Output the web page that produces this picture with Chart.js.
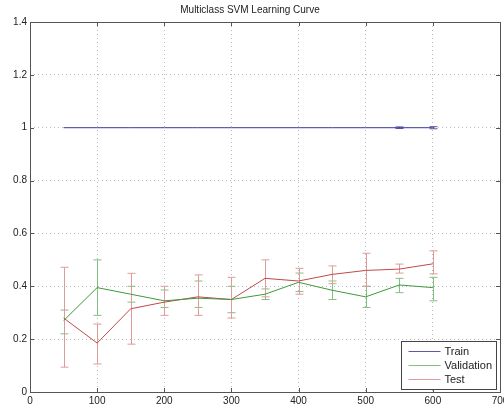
<!DOCTYPE html>
<html>
<head>
<meta charset="utf-8">
<script src="https://cdn.jsdelivr.net/npm/chart.js@4"></script>
<style>
  html, body { margin: 0; padding: 0; background: #fff; }
  #wrap { width: 504px; height: 412px; }
</style>
</head>
<body>
<div id="wrap"><canvas id="c" width="504" height="412"></canvas></div>
<script>
// training set sizes
const sizes = [50, 100, 150, 200, 250, 300, 350, 400, 450, 500, 550, 600]

const trainAcc = [1, 1, 1, 1, 1, 1, 1, 1, 1, 1, 1, 1]
const trainLow = [1, 1, 1, 1, 1, 1, 1, 1, 1, 1, 0.997, 0.996]
const trainHigh = [1, 1, 1, 1, 1, 1, 1, 1, 1, 1, 1.003, 1.004]

const valAcc = [0.27, 0.395, 0.37, 0.345, 0.355, 0.35, 0.37, 0.415, 0.385, 0.36, 0.405, 0.395]
const valLow = [0.22, 0.29, 0.34, 0.32, 0.32, 0.30, 0.35, 0.38, 0.35, 0.32, 0.376, 0.345]
const valHigh = [0.31, 0.50, 0.40, 0.386, 0.42, 0.40, 0.39, 0.45, 0.42, 0.40, 0.43, 0.434]

const testAcc = [0.28, 0.185, 0.315, 0.34, 0.36, 0.35, 0.43, 0.42, 0.445, 0.46, 0.465, 0.485]
const testLow = [0.094, 0.106, 0.181, 0.29, 0.29, 0.28, 0.36, 0.37, 0.41, 0.40, 0.45, 0.447]
const testHigh = [0.472, 0.257, 0.449, 0.40, 0.443, 0.434, 0.50, 0.468, 0.477, 0.525, 0.484, 0.534]

const xTicks = [0, 100, 200, 300, 400, 500, 600, 700]
const yTicks = [0, 0.2, 0.4, 0.6, 0.8, 1, 1.2, 1.4]

const FONT = 'Liberation Sans, Arial, sans-serif'

const series = [
    { label: 'Train', data: trainAcc, low: trainLow, high: trainHigh, color: '#3c3c9c', bar: '#5a5aa8' },
    { label: 'Validation', data: valAcc, low: valLow, high: valHigh, color: '#3c9a3c', bar: '#80c080' },
    { label: 'Test', data: testAcc, low: testLow, high: testHigh, color: '#c24848', bar: '#e09a9a' },
]

// error bars, frame, inward ticks and legend box
const matlabPlugin = {
    id: 'matlab',
    beforeDatasetsDraw(chart) {
        const { ctx } = chart
        const xs = chart.scales.x, ys = chart.scales.y
        ctx.save()
        ctx.lineWidth = 1
        ctx.setLineDash([])
        series.forEach(s => {
            ctx.strokeStyle = s.bar
            sizes.forEach((x, i) => {
                if (s.high[i] === s.low[i]) return
                const px = Math.round(xs.getPixelForValue(x)) + 0.5
                const top = ys.getPixelForValue(s.high[i])
                const bot = ys.getPixelForValue(s.low[i])
                ctx.beginPath()
                ctx.moveTo(px, top); ctx.lineTo(px, bot)
                ctx.moveTo(px - 4, top); ctx.lineTo(px + 4, top)
                ctx.moveTo(px - 4, bot); ctx.lineTo(px + 4, bot)
                ctx.stroke()
            })
        })
        ctx.restore()
    },
    afterDraw(chart) {
        const { ctx, chartArea: a } = chart
        const xs = chart.scales.x, ys = chart.scales.y
        ctx.save()
        ctx.setLineDash([])
        ctx.strokeStyle = '#555'
        ctx.lineWidth = 1
        ctx.strokeRect(Math.round(a.left) + 0.5, Math.round(a.top) + 0.5,
            Math.round(a.right - a.left), Math.round(a.bottom - a.top))
        ctx.beginPath()
        xTicks.forEach(v => {
            const px = Math.round(xs.getPixelForValue(v)) + 0.5
            ctx.moveTo(px, a.bottom); ctx.lineTo(px, a.bottom - 4)
            ctx.moveTo(px, a.top); ctx.lineTo(px, a.top + 4)
        })
        yTicks.forEach(v => {
            const py = Math.round(ys.getPixelForValue(v)) + 0.5
            ctx.moveTo(a.left, py); ctx.lineTo(a.left + 4, py)
            ctx.moveTo(a.right, py); ctx.lineTo(a.right - 4, py)
        })
        ctx.stroke()

        // legend
        const w = 95, h = 48
        const lx = Math.round(a.right - w - 4) + 0.5
        const ly = Math.round(a.bottom - h - 3) + 0.5
        ctx.fillStyle = '#fff'
        ctx.fillRect(lx, ly, w, h)
        ctx.strokeStyle = '#444'
        ctx.strokeRect(lx, ly, w, h)
        ctx.font = '11px ' + FONT
        ctx.textBaseline = 'middle'
        series.forEach((s, i) => {
            const y = Math.round(ly + 9 + i * 14) + 0.5
            ctx.strokeStyle = s.bar
            ctx.beginPath()
            ctx.moveTo(lx + 7, y); ctx.lineTo(lx + 39, y)
            ctx.stroke()
            ctx.fillStyle = '#222'
            ctx.fillText(s.label, lx + 43, y)
        })
        ctx.restore()
    }
}

const config = {
    type: 'line',
    data: {
        labels: sizes,
        datasets: series.map(s => ({
            label: s.label,
            data: sizes.map((x, i) => ({ x, y: s.data[i] })),
            borderColor: s.color,
            backgroundColor: s.color,
            borderWidth: 1,
            pointRadius: 0,
            tension: 0,
        }))
    },
    options: {
        responsive: false,
        animation: false,
        layout: { padding: { left: 0, right: 4, top: 0, bottom: 0 } },
        plugins: {
            legend: { display: false },
            tooltip: { enabled: false },
            title: {
                display: true,
                text: 'Multiclass SVM Learning Curve',
                color: '#222',
                font: { family: FONT, size: 10, weight: 'normal' },
                padding: { top: 4, bottom: 6 },
            },
        },
        scales: {
            x: {
                type: 'linear',
                min: 0, max: 700,
                afterBuildTicks: s => { s.ticks = xTicks.map(value => ({ value })) },
                ticks: { color: '#222', font: { family: FONT, size: 10 }, padding: 3, maxRotation: 0, callback: v => String(v) },
                grid: { color: '#bbb', drawTicks: false },
                border: { display: false, dash: [1, 3] },
                afterFit: s => { s.height = 20; s.paddingLeft = 0; s.paddingRight = 0 },
            },
            y: {
                min: 0, max: 1.4,
                afterBuildTicks: s => { s.ticks = yTicks.map(value => ({ value })) },
                ticks: { color: '#222', font: { family: FONT, size: 10 }, padding: 3, callback: v => String(Math.round(v * 10) / 10) },
                grid: { color: '#bbb', drawTicks: false },
                border: { display: false, dash: [1, 3] },
                afterFit: s => { s.width = 30; s.paddingTop = 0; s.paddingBottom = 0 },
            },
        },
    },
    plugins: [matlabPlugin],
}

new Chart(document.getElementById('c'), config)
</script>
</body>
</html>
